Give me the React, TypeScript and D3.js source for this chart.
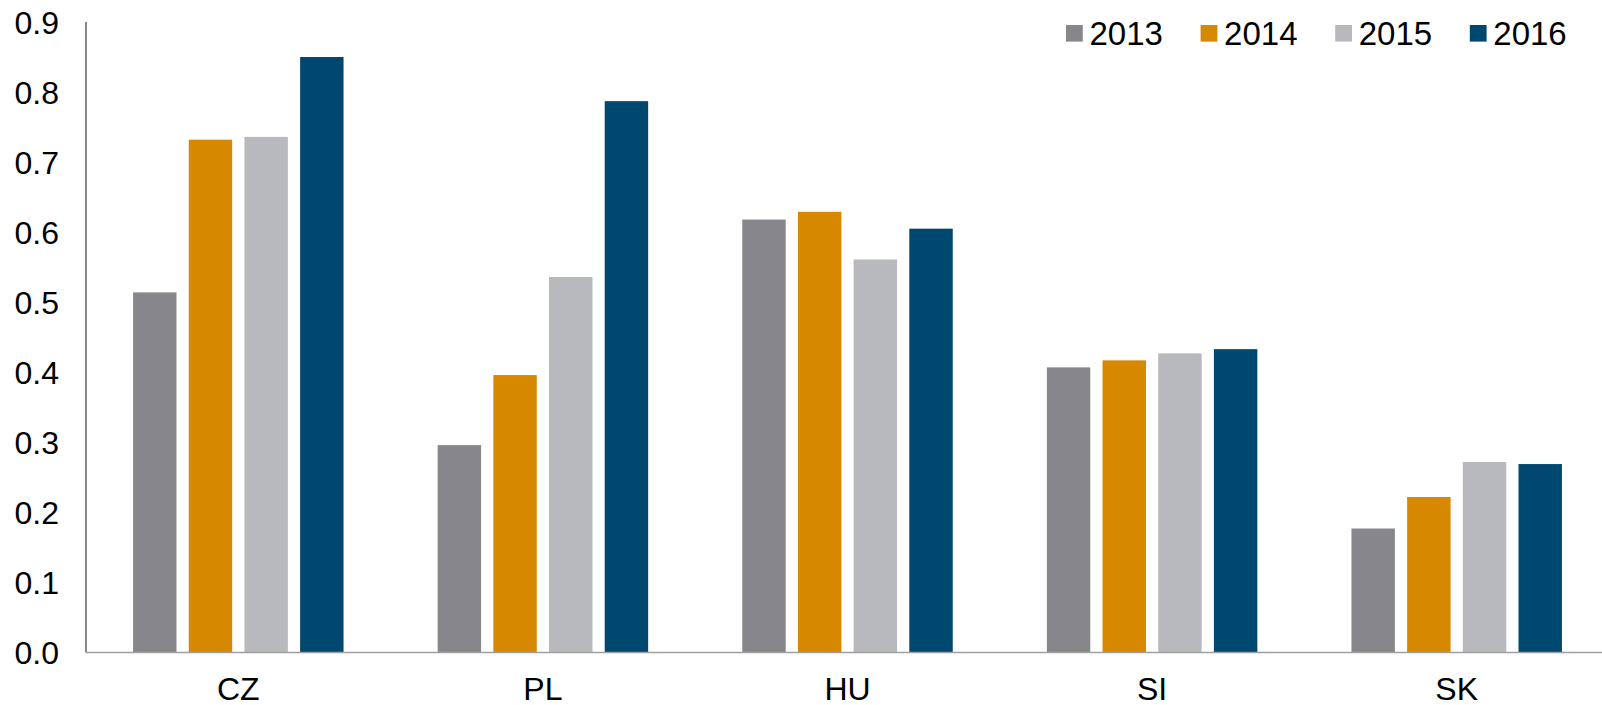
import React from "react";
import * as d3 from "d3";

const categories = ["CZ", "PL", "HU", "SI", "SK"];
const years = ["2013", "2014", "2015", "2016"];
const v2013 = [0.514, 0.296, 0.618, 0.407, 0.177];
const v2014 = [0.732, 0.396, 0.629, 0.417, 0.222];
const v2015 = [0.736, 0.536, 0.561, 0.427, 0.272];
const v2016 = [0.85, 0.787, 0.605, 0.433, 0.269];
const yTicks = [0, 0.1, 0.2, 0.3, 0.4, 0.5, 0.6, 0.7, 0.8, 0.9];

const seriesValues = [v2013, v2014, v2015, v2016];
const colors = ["#87868a", "#d58800", "#b8b9bd", "#00486f"];

const W = 1602;
const H = 705;
const left = 86;
const top = 22;
const bottom = 652.5;
const font = "'Liberation Sans', Arial, sans-serif";

export default function App() {
  const x = d3.scaleBand<string>().domain(categories).range([left, left + 5 * 304.6]).padding(0);
  const xi = d3
    .scaleBand<string>()
    .domain(years)
    .range([0, x.bandwidth()])
    .paddingInner(0.22)
    .paddingOuter(0.845);
  const y = d3.scaleLinear().domain([0, 0.9]).range([bottom, top]);

  // legend entries laid out on a fixed step from the first swatch
  const legend = d3.scalePoint<string>().domain(years).range([1066, 1066 + 3 * 134.6]);

  return (
    <svg
      width={W}
      height={H}
      style={{ position: "absolute", left: 0, top: 0, background: "#fff" }}
      fontFamily={font}
    >
      {/* bars */}
      {categories.map((c, ci) =>
        years.map((yr, si) => {
          const v = seriesValues[si][ci];
          return (
            <rect
              key={c + yr}
              x={(x(c) as number) + (xi(yr) as number)}
              y={y(v)}
              width={xi.bandwidth()}
              height={bottom - y(v)}
              fill={colors[si]}
            />
          );
        })
      )}

      {/* y axis */}
      <line x1={left} x2={left} y1={top} y2={bottom} stroke="#3a3a3a" strokeWidth={1.2} />
      {yTicks.map((t) => (
        <text
          key={t}
          x={59}
          y={y(t)}
          dy="0.36em"
          textAnchor="end"
          fontSize={32}
          fill="#000"
        >
          {t.toFixed(1)}
        </text>
      ))}

      {/* x axis */}
      <line x1={left} x2={W} y1={bottom} y2={bottom} stroke="#a0a0a0" strokeWidth={1.6} />
      {categories.map((c) => (
        <text
          key={c}
          x={(x(c) as number) + x.bandwidth() / 2}
          y={700}
          textAnchor="middle"
          fontSize={32}
          fill="#000"
        >
          {c}
        </text>
      ))}

      {/* legend */}
      {years.map((yr, i) => (
        <g key={yr}>
          <rect x={legend(yr)} y={25} width={16.8} height={16.6} fill={colors[i]} />
          <text x={(legend(yr) as number) + 23.5} y={45} fontSize={33} fill="#000">
            {yr}
          </text>
        </g>
      ))}
    </svg>
  );
}
